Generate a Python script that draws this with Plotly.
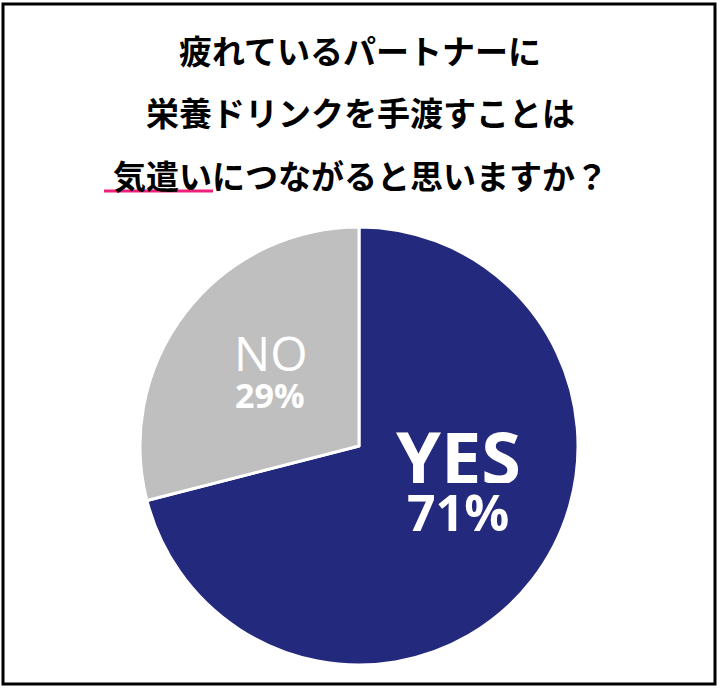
import plotly.graph_objects as go

labels = ["YES", "NO"]
values = [71, 29]
colors = ["#23297d", "#bfbfbf"]

title_lines = [
    "疲れているパートナーに",
    "栄養ドリンクを手渡すことは",
    "気遣いにつながると思いますか？",
]

W, H = 720, 690
FONT = "Noto Sans CJK JP, Noto Sans, sans-serif"
LBL = "Open Sans, sans-serif"

fig = go.Figure(go.Pie(
    labels=labels,
    values=values,
    sort=False,
    direction="clockwise",
    rotation=0,
    marker=dict(colors=colors, line=dict(color="white", width=3)),
    textinfo="none",
    hoverinfo="label+percent",
    domain=dict(x=[140 / W, 578 / W], y=[1 - 665 / H, 1 - 227 / H]),
    showlegend=False,
))


def put(text, x, y, size, family=LBL, color="white", height=None):
    fig.add_annotation(text=text, x=x / W, y=1 - y / H, xref="paper", yref="paper",
                       showarrow=False, xanchor="center", yanchor="middle",
                       height=height, borderpad=0,
                       font=dict(size=size, color=color, family=family))


# title, one annotation per line
for line, yc in zip(title_lines, [50, 112, 175]):
    put(f"<b>{line}</b>", 360, yc, 33, family=FONT, color="black")

# slice labels
put(f"<b>{labels[0]}</b>", 458, 456, 72, height=54)
put(f"<b>{values[0]}%</b>", 458, 512, 50, height=40)
put(labels[1], 270, 352, 48, height=38)
put(f"<b>{values[1]}%</b>", 270, 395, 34, height=28)

# pink underline under 気遣い
fig.add_shape(type="line", xref="paper", yref="paper",
              x0=104 / W, x1=213 / W, y0=1 - 191 / H, y1=1 - 191 / H,
              line=dict(color="#f0207a", width=3))

# outer frame
fig.add_shape(type="rect", xref="paper", yref="paper",
              x0=3 / W, x1=715 / W, y0=1 - 684 / H, y1=1 - 4 / H,
              line=dict(color="black", width=3), fillcolor="rgba(0,0,0,0)")

fig.update_layout(
    width=W, height=H,
    margin=dict(l=0, r=0, t=0, b=0),
    paper_bgcolor="white",
    plot_bgcolor="white",
)

fig.write_html("out.html", config={"displayModeBar": False},
               post_script="document.body.style.margin='0';")
